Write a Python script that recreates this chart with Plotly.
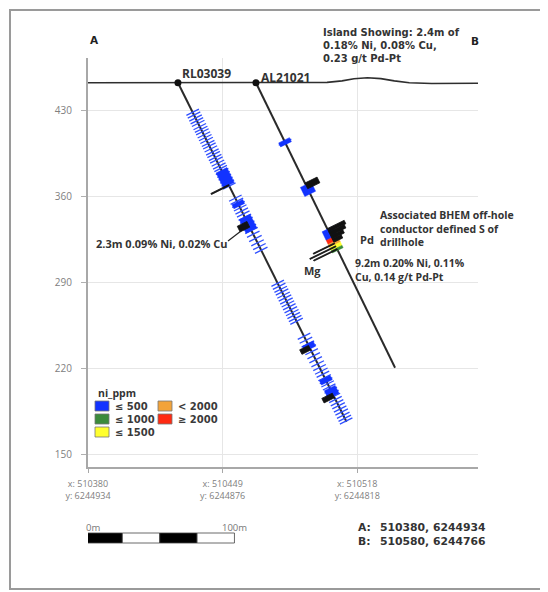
import math
import plotly.graph_objects as go

# ---------------- data ----------------
y_tick_vals = [150, 220, 290, 360, 430]
x_tick_vals = [0, 90.1, 180.2]
x_tick_text = ["x: 510380<br>y: 6244934", "x: 510449<br>y: 6244876", "x: 510518<br>y: 6244818"]

surface_x = [0, 150, 160, 170, 178, 187, 196, 205, 215, 230, 261]
surface_z = [453, 453, 453.3, 454.5, 456.2, 457, 456.3, 454.5, 453, 452.4, 452.5]

hole_names = ["RL03039", "AL21021"]
collar_x = [60.2, 112.4]
collar_z = [453.0, 453.0]
end_x = [173.0, 205.5]
end_z = [177.0, 221.0]

# sample depths (m along hole) on RL03039, ni_ppm <= 500
rl_tick_depths = [26.0, 28.4, 31.1, 33.5, 35.8, 38.6, 41.0, 43.2, 45.9, 48.3, 50.7, 53.4, 55.6,
                  58.2, 60.9, 63.1, 65.8, 68.0, 70.7, 73.2, 75.5, 78.1, 80.6, 83.0, 85.7, 88.2, 90.8,
                  101.5, 104.2, 107.0, 110.1, 112.8, 115.5, 118.3, 121.0, 124.2, 127.1, 130.0,
                  133.2, 137.0, 140.8, 144.1, 147.3,
                  176.4, 179.0, 181.7, 184.1, 186.8, 189.3, 191.9, 194.5, 197.0, 199.6, 202.2,
                  204.7, 207.3, 209.8,
                  223.0, 226.4, 229.8, 233.0, 236.5, 240.1, 243.6, 247.2,
                  250.5, 253.6, 256.4, 259.3, 262.0, 264.8, 267.5, 270.3, 273.1, 275.8, 278.6,
                  281.4, 284.1, 286.9, 289.6, 292.4, 295.1, 297.5]
al_tick_depths = [52.2]

# assay intervals: hole index, from, to (m), ni_ppm
int_hole = [0, 0, 0, 0, 0, 0, 1, 1, 1, 1, 1, 1, 1]
int_from = [77.0, 105.0, 118.0, 229.5, 259.5, 268.5, 50.5, 89.5, 128.5, 136.0, 139.5, 142.0, 145.0]
int_to = [90.0, 108.5, 130.0, 234.0, 263.5, 275.5, 54.0, 97.5, 136.0, 139.5, 142.0, 145.0, 147.0]
int_ni = [420, 380, 460, 350, 300, 410, 450, 480, 490, 2300, 1800, 1300, 900]

# secondary element bars (black): hole, from, to, side (-1 left = Mg, +1 right = Pd), value
flag_hole = [0, 0, 0, 0, 1, 1, 1, 1, 1, 1, 1, 1]
flag_from = [89.6, 122.0, 231.0, 273.0, 88.0, 128.0, 131.0, 134.0, 137.0, 140.6, 143.1, 145.6]
flag_to = [90.6, 127.0, 235.0, 277.0, 93.0, 131.0, 134.0, 137.0, 140.0, 141.4, 143.9, 146.4]
flag_side = [-1, -1, -1, -1, 1, 1, 1, 1, 1, -1, -1, -1]
flag_val = [2.2, 1.2, 1.1, 1.3, 1.5, 2.1, 1.9, 1.5, 1.1, 2.6, 3.2, 2.9]

legend_labels = ["≤ 500", "≤ 1000", "≤ 1500", "< 2000", "≥ 2000"]
legend_colors = ["#1233ff", "#3b8b3b", "#ffff2e", "#f2a33a", "#ff2a12"]
ni_limits = [500, 1000, 1500, 1999.999, float("inf")]

scale_bar_m = [0, 25, 50, 75, 100]

# ---------------- layout geometry ----------------
PAGE_OFF = 8                      # default page margin of the html body
W, H = 540, 584
ML, MT = 80, 50
PW, PH = 390, 409
MR, MB = W - ML - PW, H - MT - PH
XR = [0, 261]
YR = [140.2, 473.1]
sx = PW / (XR[1] - XR[0])
sy = PH / (YR[1] - YR[0])


def px2x(px):
    return (px - PAGE_OFF - ML) / PW


def py2y(py):
    return (H - MB - (py - PAGE_OFF)) / PH


def dx2paper(v):
    return (v - XR[0]) / (XR[1] - XR[0])


def geom(i):
    cx, cz, ex, ez = collar_x[i], collar_z[i], end_x[i], end_z[i]
    L = math.hypot(ex - cx, ez - cz)
    ux, uz = (ex - cx) / L, (ez - cz) / L
    px, pz = (ex - cx) * sx, (ez - cz) * sy
    n = math.hypot(px, pz)
    px, pz = px / n, pz / n
    nx, nz = -pz, px
    return cx, cz, ux, uz, nx / sx, nz / sy


G = [geom(i) for i in range(len(hole_names))]


def pt(i, d, off=0.0):
    cx, cz, ux, uz, nx, nz = G[i]
    return cx + ux * d + off * nx, cz + uz * d + off * nz


def ni_color(v):
    for lim, c in zip(ni_limits, legend_colors):
        if v <= lim:
            return c
    return legend_colors[-1]


fig = go.Figure()

# surface
fig.add_trace(go.Scatter(x=surface_x, y=surface_z, mode="lines",
                         line=dict(color="#2e2e2e", width=1.6), hoverinfo="skip"))

# drill holes
for i in range(len(hole_names)):
    fig.add_trace(go.Scatter(x=[collar_x[i], end_x[i]], y=[collar_z[i], end_z[i]], mode="lines",
                             line=dict(color="#2a2a2a", width=2), hoverinfo="skip"))

# sample ticks
TICK = 7
for i, depths in enumerate([rl_tick_depths, al_tick_depths]):
    xs, ys = [], []
    for d in depths:
        x0, y0 = pt(i, d, -TICK)
        x1, y1 = pt(i, d, TICK)
        xs += [x0, x1, None]
        ys += [y0, y1, None]
    fig.add_trace(go.Scatter(x=xs, y=ys, mode="lines", line=dict(color="#3050ff", width=1.3),
                             hoverinfo="skip"))

# assay blocks
BW = 6
for h, a, b, v in zip(int_hole, int_from, int_to, int_ni):
    c = ni_color(v)
    p = [pt(h, a, -BW), pt(h, a, BW), pt(h, b, BW), pt(h, b, -BW), pt(h, a, -BW)]
    fig.add_trace(go.Scatter(x=[q[0] for q in p], y=[q[1] for q in p], mode="lines",
                             fill="toself", fillcolor=c, line=dict(color=c, width=0.5),
                             hoverinfo="skip"))

# black element bars
FLAG_PX = 9
for h, a, b, s, v in zip(flag_hole, flag_from, flag_to, flag_side, flag_val):
    L = s * v * FLAG_PX
    p = [pt(h, a, 0), pt(h, a, L), pt(h, b, L), pt(h, b, 0), pt(h, a, 0)]
    fig.add_trace(go.Scatter(x=[q[0] for q in p], y=[q[1] for q in p], mode="lines",
                             fill="toself", fillcolor="#111111", line=dict(color="#111111", width=0.8),
                             hoverinfo="skip"))

# collars
fig.add_trace(go.Scatter(x=collar_x, y=collar_z, mode="markers",
                         marker=dict(color="#111111", size=7), hoverinfo="skip"))

OPEN = "Open Sans, Liberation Sans, sans-serif"
DEJA = "DejaVu Sans, sans-serif"
ann = []


def text(s, px, py, size=10, color="#333333", xanchor="left", bold=True, family=OPEN):
    ann.append(dict(text=("<b>%s</b>" % s) if bold else s, x=px2x(px), y=py2y(py),
                    xref="paper", yref="paper", xanchor=xanchor, yanchor="middle", align="left",
                    showarrow=False, font=dict(family=family, size=size, color=color)))


text("A", 94, 40, 10.5, "#222222", "center", family=DEJA)
text("B", 475, 41, 10.5, "#222222", "center", family=DEJA)
text("Island Showing: 2.4m of<br>0.18% Ni, 0.08% Cu,<br>0.23 g/t Pd-Pt", 321, 45, 10, family=DEJA)
text(hole_names[0], 180, 74, 12)
text(hole_names[1], 259, 77, 12)
text("Associated BHEM off-hole<br>conductor defined S of<br>drillhole", 378, 228, 10.5)
text("Pd", 358, 239, 11)
text("Mg", 302, 270, 11)
text("9.2m 0.20% Ni, 0.11%<br>Cu, 0.14 g/t Pd-Pt", 353, 270, 10.5)
text("2.3m 0.09% Ni, 0.02% Cu", 94, 243, 11)

# legend
text("ni_ppm", 96, 393, 10.5)
leg_pos = [(95, 406), (95, 419), (95, 432), (158, 406), (158, 419)]
shapes = []
for (lx, ly), col in zip(leg_pos, legend_colors):
    shapes.append(dict(type="rect", xref="paper", yref="paper", x0=px2x(lx), x1=px2x(lx + 14),
                       y0=py2y(ly + 5), y1=py2y(ly - 5), fillcolor=col,
                       line=dict(color="#777777", width=0.8)))
text("<br>".join(legend_labels[:3]), 113, 419, 10, "#3a3a3a", family=DEJA)
text("<br>".join(legend_labels[3:]), 176, 412.5, 10, "#3a3a3a", family=DEJA)

# scale bar
for k in range(len(scale_bar_m) - 1):
    shapes.append(dict(type="rect", xref="x", yref="paper", x0=scale_bar_m[k] - 2,
                       x1=scale_bar_m[k + 1] - 2, y0=py2y(543), y1=py2y(533),
                       fillcolor="#000000" if k % 2 == 0 else "#ffffff",
                       line=dict(color="#444444", width=0.8)))
ann.append(dict(text="0m", x=dx2paper(scale_bar_m[0] - 3), y=py2y(527), xref="paper", yref="paper",
                xanchor="left", yanchor="middle", showarrow=False,
                font=dict(family=OPEN, size=9.5, color="#777777")))
ann.append(dict(text="100m", x=dx2paper(scale_bar_m[-1] - 2), y=py2y(527), xref="paper",
                yref="paper", xanchor="center", yanchor="middle", showarrow=False,
                font=dict(family=OPEN, size=9.5, color="#777777")))

text("A:<br>B:", 356, 534, 10.8, family=DEJA)
text("510380, 6244934<br>510580, 6244766", 378, 534, 10.8, family=DEJA)

# leader line for RL label
shapes.append(dict(type="line", xref="paper", yref="paper", x0=px2x(228), y0=py2y(241),
                   x1=px2x(241), y1=py2y(231), line=dict(color="#222222", width=1.2)))

# outer frame
shapes.append(dict(type="rect", xref="paper", yref="paper", x0=px2x(PAGE_OFF + 2), x1=px2x(543),
                   y0=py2y(589), y1=py2y(PAGE_OFF + 2), line=dict(color="#9a9a9a", width=2),
                   fillcolor="rgba(0,0,0,0)", layer="below"))

fig.update_layout(
    width=W, height=H, margin=dict(l=ML, r=MR, t=MT, b=MB),
    paper_bgcolor="white", plot_bgcolor="white", showlegend=False,
    annotations=ann, shapes=shapes,
    xaxis=dict(range=XR, tickvals=x_tick_vals, ticktext=x_tick_text, showgrid=True,
               gridcolor="#e6e6e6", gridwidth=1, zeroline=False, showline=True,
               linecolor="#a8a8a8", linewidth=2, ticks="outside", ticklen=4,
               tickcolor="#a8a8a8", tickfont=dict(family=OPEN, size=9, color="#808080"),
               ticklabelstandoff=3, fixedrange=True),
    yaxis=dict(range=YR, tickvals=y_tick_vals, showgrid=True, gridcolor="#e6e6e6",
               gridwidth=1, zeroline=False, showline=True, linecolor="#a8a8a8", linewidth=2,
               ticks="outside", ticklen=5, tickcolor="#b0b0b0",
               tickfont=dict(family=OPEN, size=10, color="#808080"),
               ticklabelstandoff=7, fixedrange=True),
)

fig.write_html("out.html")
